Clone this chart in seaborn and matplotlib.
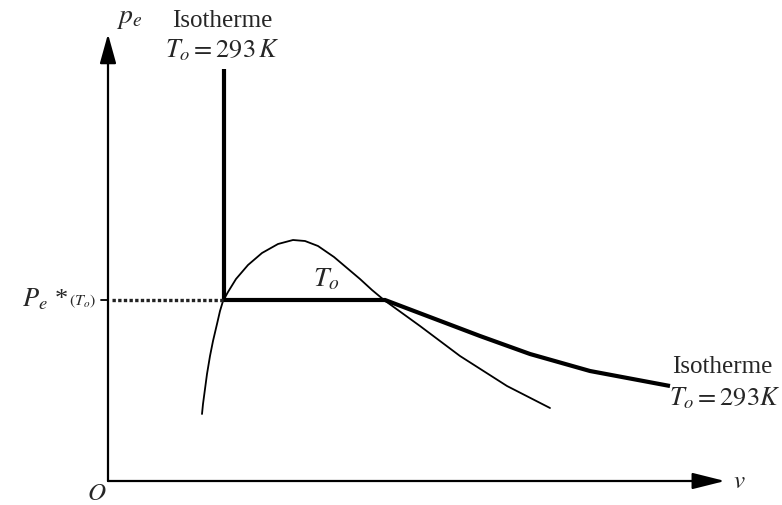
import matplotlib
matplotlib.use("Agg")
import matplotlib.pyplot as plt
import seaborn as sns
import pandas as pd

# ---- data (schematic, origin at O) ----
# theoretical (van der Waals-like) isotherm, thin curve
vdw_v = [94, 95, 97, 99, 102, 105, 109, 112, 115, 120, 128, 140, 154, 170, 185,
         197, 210, 226, 252, 264, 276, 312, 352, 399, 442]
vdw_p = [67, 77, 92, 107, 125, 140, 157, 170, 180, 189, 202, 216, 228, 237, 241,
         240, 235, 224, 202, 191, 181, 155, 125, 95, 73]
# real isotherm T_o = 293 K, thick line
iso_v = [116, 116, 277, 372, 422, 482, 562]
iso_p = [412, 181, 181, 145, 127, 110, 95]
# saturation pressure level
p_sat = 181
v_sat_liq = 116

sns.set_theme(style="white")
plt.rcParams["font.family"] = ["Liberation Serif", "DejaVu Serif"]
plt.rcParams["mathtext.fontset"] = "stix"

fig = plt.figure(figsize=(7.82, 5.06), dpi=100)
ax = fig.add_axes([0, 0, 1, 1])
ax.set_xlim(-108, 674)
ax.set_ylim(-24, 482)
ax.axis("off")

vdw = pd.DataFrame({"v": vdw_v, "p": vdw_p})
iso = pd.DataFrame({"v": iso_v, "p": iso_p})

sns.lineplot(data=vdw, x="v", y="p", sort=False, estimator=None, color="black",
             lw=1.3, ax=ax)
sns.lineplot(data=iso, x="v", y="p", sort=False, estimator=None, color="black",
             lw=3.0, ax=ax, solid_joinstyle="miter", solid_capstyle="butt")

# hatched guide line to the p axis
ax.plot([4, v_sat_liq], [p_sat, p_sat], color="#222222", lw=2.4,
        linestyle=(0, (1.0, 0.7)))
# small tick on p axis
ax.plot([-7, 0], [p_sat, p_sat], color="black", lw=1.3)

# axes with arrows
ax.annotate("", xy=(0, 447), xytext=(0, 0),
            arrowprops=dict(arrowstyle="-|>,head_length=18,head_width=5",
                            mutation_scale=1, lw=1.6, color="black",
                            shrinkA=0, shrinkB=0))
ax.annotate("", xy=(617, 0), xytext=(0, 0),
            arrowprops=dict(arrowstyle="-|>,head_length=20,head_width=5",
                            mutation_scale=1, lw=1.6, color="black",
                            shrinkA=0, shrinkB=0))

# labels
ax.text(8, 464, r"$p_e$", fontsize=20, ha="left", va="center")
ax.text(-11, -12, r"$O$", fontsize=18, ha="center", va="center")
ax.text(631, 0, r"$v$", fontsize=18, ha="center", va="center")
ax.text(-40, p_sat + 2, r"$P_e$ *", fontsize=19, ha="right", va="center")
ax.text(-39, p_sat, r"$(T_o)$", fontsize=11.5, ha="left", va="center")
ax.text(218, 202, r"$T_o$", fontsize=20, ha="center", va="center")

ax.text(114, 461, "Isotherme", fontsize=18, ha="center", va="center")
ax.text(114, 432, r"$T_o = 293\,K$", fontsize=19, ha="center", va="center")
ax.text(614, 115, "Isotherme", fontsize=18, ha="center", va="center")
ax.text(617, 84, r"$T_o = 293K$", fontsize=19, ha="center", va="center")

fig.savefig("out.png", dpi=100)
